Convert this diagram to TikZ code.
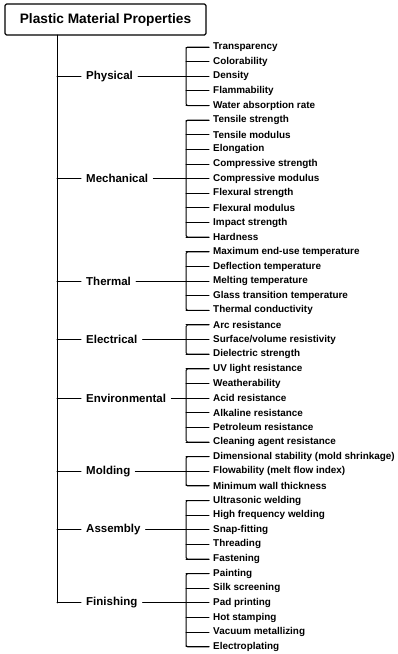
\documentclass[tikz,border=0pt]{standalone}
\usepackage{fontspec}
\setmainfont{Liberation Sans}

\begin{document}
\begin{tikzpicture}[x=1pt,y=-1pt,line cap=round,line join=round,
	leaf/.style={anchor=west,inner xsep=4pt,inner ysep=1pt,font=\fontsize{9.9}{10}\selectfont\bfseries},
	cat/.style={anchor=west,inner xsep=5pt,inner ysep=1pt,font=\fontsize{11.5}{12}\selectfont\bfseries},
	ln/.style={line width=1pt},
	brk/.style={line width=1pt,rounded corners=1.5pt}]
	\useasboundingbox (0,0) rectangle (397,654);
	% title box
	\node[draw,line width=1.2pt,rounded corners=1.5pt,minimum width=201pt,minimum height=31pt,font=\fontsize{13.7}{14}\selectfont\bfseries] (title) at (105.5,19.5) {Plastic Material Properties};
	\coordinate (top) at (57,35);
	\coordinate (tx) at (81,0);
	\coordinate (bx) at (186,0);
	% properties
	\foreach \t [count=\i from 0] in {Transparency, Colorability, Density, Flammability, Water absorption rate,
		Tensile strength, Tensile modulus, Elongation, Compressive strength, Compressive modulus, Flexural strength, Flexural modulus, Impact strength, Hardness,
		Maximum end-use temperature, Deflection temperature, Melting temperature, Glass transition temperature, Thermal conductivity,
		Arc resistance, Surface/volume resistivity, Dielectric strength,
		UV light resistance, Weatherability, Acid resistance, Alkaline resistance, Petroleum resistance, Cleaning agent resistance,
		{Dimensional stability (mold shrinkage)}, {Flowability (melt flow index)}, Minimum wall thickness,
		Ultrasonic welding, High frequency welding, Snap-fitting, Threading, Fastening,
		Painting, Silk screening, Pad printing, Hot stamping, Vacuum metallizing, Electroplating}
		\node[leaf] (l\i) at (209,{47+\i*14.63}) {\t};
	% categories
	\node[cat] (phys) at (tx |- l2.west) {Physical};
	\node[cat] (mech) at (tx |- l9.west) {Mechanical};
	\node[cat] (therm) at (tx |- l16.west) {Thermal};
	\node[cat] (elec) at (tx |- l20.west) {Electrical};
	\node[cat] (env) at (tx |- l24.west) {Environmental};
	\node[cat] (mold) at (tx |- l29.west) {Molding};
	\node[cat] (assy) at (tx |- l33.west) {Assembly};
	\node[cat] (fini) at (tx |- l38.west) {Finishing};
	% trunk and branches
	\draw[ln] (top) -- (top |- fini.west);
	\foreach \c in {phys,mech,therm,elec,env,mold,assy,fini} {
		\draw[ln] (\c.west -| top) -- (\c.west);
		\draw[ln] (\c.east) -- (\c.east -| bx);
	}
	\foreach \a/\b in {0/4,5/13,14/18,19/21,22/27,28/30,31/35,36/41} {
		\draw[brk] (l\a.west) -- (l\a.west -| bx) -- (l\b.west -| bx) -- (l\b.west);
		\foreach \k in {\a,...,\b}
			\draw[ln] (l\k.west) -- (l\k.west -| bx);
	}
\end{tikzpicture}
\end{document}
